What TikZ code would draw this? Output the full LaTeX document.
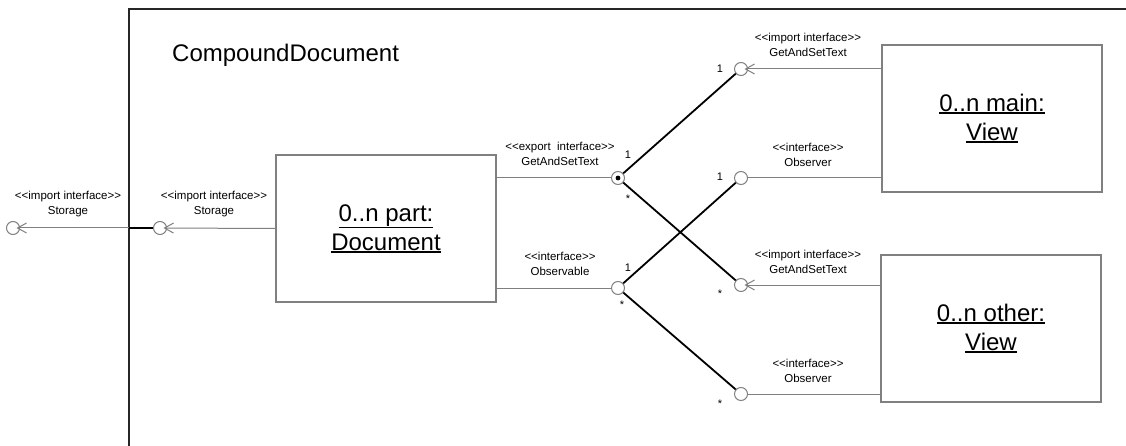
\documentclass[tikz,border=0pt]{standalone}
\usepackage{fontspec}
\setmainfont{Liberation Sans}
\usepackage{tikz}
\usetikzlibrary{arrows.meta}

% underlined instance name
\newcommand{\inst}[1]{\setbox0\hbox{#1}\rlap{\rule[\dimexpr-\dp0-2.5pt\relax]{\wd0}{1.8pt}}\box0}
% stereotype brackets, kept apart so they do not turn into guillemets
\newcommand{\stype}[1]{<{}<#1>{}>}

\tikzset{
  part/.style={draw=gray, line width=1.2pt, minimum width=220pt, minimum height=147pt,
    align=center, font=\fontsize{24}{29}\selectfont},
  port/.style={circle, draw=gray, line width=1pt, minimum size=13pt, inner sep=0pt},
  provided/.style={port, path picture={\fill (path picture bounding box.center) circle (2.4pt);}},
  wire/.style={draw=gray, line width=1pt},
  need/.style={wire, -{Straight Barb[length=9pt,width=10pt]}, shorten >=-3.5pt},
  link/.style={draw=black, line width=1.8pt},
  stereo/.style={align=center, inner sep=0pt, font=\fontsize{11.5}{15}\selectfont},
  mult/.style={inner sep=0pt, font=\fontsize{11}{13}\selectfont}
}

\begin{document}
\begin{tikzpicture}[x=1pt, y=-1pt]
	\useasboundingbox (0,0) rectangle (1126,446);

	% enclosing component
	\draw[black!85, line width=2pt] (129,446) |- (1126,9);
	\node[anchor=base west, inner sep=0pt, font=\fontsize{24}{29}\selectfont] (title) at (172,62) {CompoundDocument};

	\node[part] (doc)   at (386,228.5) {\inst{0..n part:}\\\inst{Document}};
	\node[part] (mainv) at (992,118.5) {\inst{0..n main:}\\\inst{View}};
	\node[part] (othv)  at (991,328.5) {\inst{0..n other:}\\\inst{View}};

	\node[port] (stout) at (13,228) {};
	\node[port] (stin)  at (160,228) {};
	\coordinate (edge) at (129,228);

	\node[provided] (gsexp) at (618,178) {};
	\node[port] (obsbl)     at (618,288) {};
	\node[port] (gsmain)    at (741,69) {};
	\node[port] (obmain)    at (741,178) {};
	\node[port] (gsoth)     at (741,285) {};
	\node[port] (oboth)     at (741,394) {};

	% stereotypes
	\node[stereo] (lstout) at (68,204)  {\stype{import interface}\\Storage};
	\node[stereo] (lstin)  at (214,204) {\stype{import interface}\\Storage};
	\node[stereo] (lgsexp) at (560,154) {\stype{export\ \ interface}\\GetAndSetText};
	\node[stereo] (lobsbl) at (560,263.5) {\stype{interface}\\Observable};
	\node[stereo] (lgsmain) at (808,45)  {\stype{import interface}\\GetAndSetText};
	\node[stereo] (lobmain) at (808,154.5) {\stype{interface}\\Observer};
	\node[stereo] (lgsoth)  at (808,261.5) {\stype{import interface}\\GetAndSetText};
	\node[stereo] (loboth)  at (808,370.5) {\stype{interface}\\Observer};

	% multiplicities
	\node[mult] (m1) at (628,155) {1};
	\node[mult] (m2) at (628,199) {*};
	\node[mult] (m3) at (628,268) {1};
	\node[mult] (m4) at (622,305) {*};
	\node[mult] (m5) at (720,69)  {1};
	\node[mult] (m6) at (720,177) {1};
	\node[mult] (m7) at (720,294) {*};
	\node[mult] (m8) at (720,404) {*};

	\draw[need] (edge) -- (stout);
	\draw[link] (edge) -- (stin);
	\draw[need] (doc.west) -- (stin);

	\draw[wire] (doc.east |- gsexp) -- (gsexp);
	\draw[wire] (doc.east |- obsbl) -- (obsbl);

	\draw[need] (mainv.west |- gsmain) -- (gsmain);
	\draw[wire] (mainv.west |- obmain) -- (obmain);
	\draw[need] (othv.west |- gsoth) -- (gsoth);
	\draw[wire] (othv.west |- oboth) -- (oboth);

	\draw[link] (gsexp) -- (gsmain);
	\draw[link] (gsexp) -- (gsoth);
	\draw[link] (obsbl) -- (obmain);
	\draw[link] (obsbl) -- (oboth);
\end{tikzpicture}
\end{document}
